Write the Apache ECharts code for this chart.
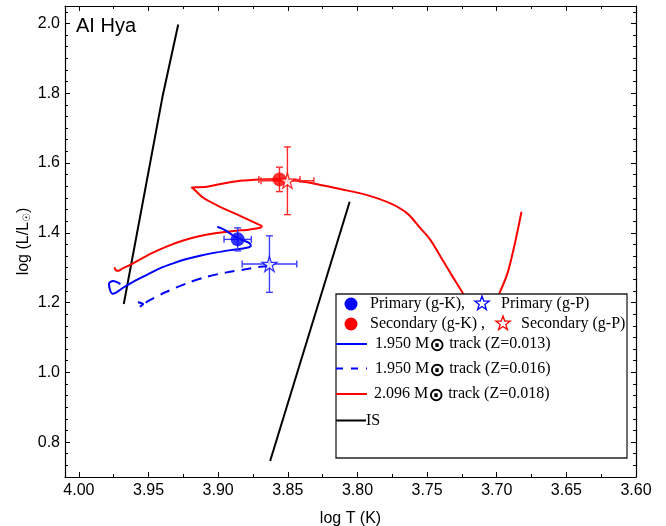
<!DOCTYPE html>
<html><head><meta charset="utf-8">
<script src="https://cdn.jsdelivr.net/npm/echarts@6/dist/echarts.min.js"></script>
<style>html,body{margin:0;padding:0;background:#fff}#c{width:666px;height:526px}</style>
</head><body><div id="c"></div>
<script>
// ---- data ----
const xMajorTicks = [4.00, 3.95, 3.90, 3.85, 3.80, 3.75, 3.70, 3.65, 3.60];
const yMajorTicks = [0.8, 1.0, 1.2, 1.4, 1.6, 1.8, 2.0];
const xRange = [3.60, 4.01];
const yRange = [0.70, 2.05];

const redTrack = [
 [3.9745,1.3009],[3.9734,1.2923],[3.9714,1.2911],[3.9693,1.2968],[3.9635,1.3074],[3.9563,1.3232],
 [3.9491,1.3390],[3.9371,1.3605],[3.9251,1.3777],[3.9131,1.3905],[3.9011,1.3991],[3.8891,1.4049],
 [3.8771,1.4097],[3.8699,1.4143],[3.8687,1.4192],[3.8711,1.4241],[3.8843,1.4487],[3.8987,1.4745],
 [3.9107,1.5003],[3.9179,1.5272],[3.9191,1.5301],[3.9083,1.5318],[3.8963,1.5415],[3.8843,1.5490],
 [3.8699,1.5530],[3.8579,1.5539],[3.8483,1.5510],[3.8315,1.5415],[3.8123,1.5252],[3.7931,1.5080],
 [3.7763,1.4842],[3.7643,1.4556],[3.7547,1.4126],[3.7475,1.3791],[3.7403,1.3312],[3.7331,1.2837],
 [3.7235,1.2215],[3.7173,1.1785],[3.7108,1.1585],[3.7043,1.1728],[3.6983,1.2244],[3.6923,1.2837],
 [3.6875,1.3599],[3.6822,1.4602]
];
const blueTrackZ013 = [
 [3.9702,1.2530],[3.9755,1.2616],[3.9784,1.2550],[3.9779,1.2387],[3.9760,1.2252],[3.9731,1.2292],
 [3.9683,1.2424],[3.9611,1.2596],[3.9515,1.2788],[3.9419,1.2980],[3.9323,1.3123],[3.9227,1.3246],
 [3.9131,1.3341],[3.9011,1.3438],[3.8891,1.3513],[3.8795,1.3570],[3.8766,1.3628],[3.8776,1.3705],
 [3.8819,1.3782],[3.8891,1.3914],[3.8951,1.4077],[3.9006,1.4172]
];
const blueTrackZ016 = [
 [3.9577,1.2006],[3.9539,1.1957],[3.9563,1.1880],[3.9491,1.2072],[3.9371,1.2309],[3.9227,1.2550],
 [3.9083,1.2739],[3.8939,1.2865],[3.8795,1.2960],[3.8699,1.3026],[3.8591,1.3046]
];
const isLeft = [[3.9678,1.1957],[3.9400,1.7897],[3.9287,1.9971]];
const isRight = [[3.8627,0.7458],[3.8056,1.4888]];

// [logT, logL, errT, errL]
const primaryGK = [[3.8860, 1.3811, 0.0098, 0.033]];
const primaryGP = [[3.8632, 1.3103, 0.0196, 0.081]];
const secondaryGK = [[3.8560, 1.5530, 0.0148, 0.035]];
const secondaryGP = [[3.8503, 1.5490, 0.0190, 0.097]];

const starLabel = 'AI Hya';
const legendLabels = ['Primary (g-K),', 'Primary (g-P)', 'Secondary (g-K) ,', 'Secondary (g-P)',
  '1.950 M{sun|⊙} track (Z=0.013)', '1.950 M{sun|⊙} track (Z=0.016)', '2.096 M{sun|⊙} track (Z=0.018)', 'IS'];

// ---- helpers (ticks only) ----
const xMinorTicks = xMajorTicks.slice(0, -1).map((v, i) => +((v + xMajorTicks[i + 1]) / 2).toFixed(4));
const yMinorTicks = [];
for (let k = 21; k <= 61; k++) { if (k % 6 !== 0) yMinorTicks.push(k / 30); }

const STAR = 'path://M50,2 L61.2,36.4 L97.6,36.4 L68.2,57.6 L79.4,92 L50,70.8 L20.6,92 L31.8,57.6 L2.4,36.4 L38.8,36.4 Z';
const SANS = 'Liberation Sans, Arial, sans-serif';
const SERIF = 'Liberation Serif, Times New Roman, serif';
const BLUE = '#0000ff', RED = '#ff0000';

function xAx(pos, ticks, len, showLine, showLabel, extra) {
  return Object.assign({
    type: 'value', position: pos, min: xRange[0], max: xRange[1], inverse: true,
    axisLine: { show: showLine, onZero: false, lineStyle: { color: '#000', width: 1.2 } },
    axisTick: { show: true, inside: true, length: len, customValues: ticks, lineStyle: { color: '#000', width: 1 } },
    axisLabel: showLabel ? { show: true, customValues: xMajorTicks, formatter: v => (+v).toFixed(2), fontSize: 16, fontFamily: SANS, color: '#000', margin: 6 } : { show: false },
    splitLine: { show: false }
  }, extra || {});
}
function yAx(pos, ticks, len, showLine, showLabel, extra) {
  return Object.assign({
    type: 'value', position: pos, min: yRange[0], max: yRange[1],
    axisLine: { show: showLine, onZero: false, lineStyle: { color: '#000', width: 1.2 } },
    axisTick: { show: true, inside: true, length: len, customValues: ticks, lineStyle: { color: '#000', width: 1 } },
    axisLabel: showLabel ? { show: true, customValues: yMajorTicks, formatter: v => (+v).toFixed(1), fontSize: 16, fontFamily: SANS, color: '#000', margin: 5 } : { show: false },
    splitLine: { show: false }
  }, extra || {});
}

function errSeries(data, color) {
  return {
    type: 'custom', data: data, z: 5, encode: { x: 0, y: 1 },
    renderItem: function (params, api) {
      const x = api.value(0), y = api.value(1), ex = api.value(2), ey = api.value(3);
      const l = api.coord([x - ex, y]), r = api.coord([x + ex, y]);
      const t = api.coord([x, y + ey]), b = api.coord([x, y - ey]);
      const cap = 3.5;
      const st = { stroke: color, lineWidth: 1.4 };
      const ln = (x1, y1, x2, y2) => ({ type: 'line', shape: { x1, y1, x2, y2 }, style: st });
      return { type: 'group', children: [
        ln(l[0], l[1], r[0], r[1]), ln(l[0], l[1] - cap, l[0], l[1] + cap), ln(r[0], r[1] - cap, r[0], r[1] + cap),
        ln(t[0], t[1], b[0], b[1]), ln(t[0] - cap, t[1], t[0] + cap, t[1]), ln(b[0] - cap, b[1], b[0] + cap, b[1])
      ] };
    }
  };
}
function lineSeries(data, color, dash, smooth) {
  return { type: 'line', data: data, showSymbol: false, symbol: 'none', z: 3, smooth: smooth || false,
    lineStyle: { color: color, width: 2, type: dash || 'solid' }, animation: false };
}

const chart = echarts.init(document.getElementById('c'), null, { renderer: 'canvas' });

const lgX = 336, lgY = 294, lgW = 291, lgH = 164;
const txt = (x, y, text, extra) => ({ type: 'text', x: x, y: y, z: 101,
  style: Object.assign({ text: text, fontFamily: SERIF, fontSize: 16, fill: '#000', verticalAlign: 'middle',
    rich: { sun: { fontFamily: 'DejaVu Sans', fontSize: 19, fontWeight: 'bold', verticalAlign: 'bottom', padding: [5, 0, 0, 0] } } }, extra || {}) });
const seg = (x1, y1, x2, y2, color, dash) => ({ type: 'line', z: 101, shape: { x1, y1, x2, y2 },
  style: { stroke: color, lineWidth: 2, lineDash: dash || null } });
const dot = (cx, cy, color) => ({ type: 'circle', z: 101, shape: { cx, cy, r: 6.5 }, style: { fill: color } });
function starPts(cx, cy, R) {
  const pts = [];
  for (let i = 0; i < 10; i++) {
    const r = i % 2 === 0 ? R : R * 0.4;
    const a = -Math.PI / 2 + i * Math.PI / 5;
    pts.push([cx + r * Math.cos(a), cy + r * Math.sin(a)]);
  }
  return pts;
}
const star = (cx, cy, color) => ({ type: 'polygon', z: 101, shape: { points: starPts(cx, cy, 7.5) },
  style: { fill: '#fff', stroke: color, lineWidth: 1.3 } });

chart.setOption({
  animation: false,
  backgroundColor: '#fff',
  grid: { left: 65, right: 30, top: 6, bottom: 49, containLabel: false, outerBoundsMode: 'none' },
  xAxis: [
    xAx('bottom', xMajorTicks, 5, true, true, { name: 'log T (K)', nameLocation: 'middle', nameGap: 34,
      nameTextStyle: { fontSize: 16, fontFamily: SANS, color: '#000' } }),
    xAx('bottom', xMinorTicks, 3, false, false),
    xAx('top', xMajorTicks, 5, true, false),
    xAx('top', xMinorTicks, 3, false, false)
  ],
  yAxis: [
    yAx('left', yMajorTicks, 5, true, true, { name: 'log (L/L{s|☉})', nameLocation: 'middle', nameGap: 33, nameMoveOverlap: false,
      nameTextStyle: { fontSize: 16, fontFamily: SANS, color: '#000',
        rich: { s: { fontSize: 10, fontFamily: 'DejaVu Sans', verticalAlign: 'bottom', padding: [6, 0, 0, 0] } } } }),
    yAx('left', yMinorTicks, 3, false, false),
    yAx('right', yMajorTicks, 5, true, false),
    yAx('right', yMinorTicks, 3, false, false)
  ],
  series: [
    lineSeries(isLeft, '#000'),
    lineSeries(isRight, '#000'),
    lineSeries(redTrack, RED, null, 0.3),
    lineSeries(blueTrackZ013, BLUE, null, 0.3),
    lineSeries(blueTrackZ016, BLUE, [10, 7], 0.3),
    errSeries(primaryGK.concat(primaryGP), '#3d3dff'),
    errSeries(secondaryGK.concat(secondaryGP), '#ff2a2a'),
    { type: 'scatter', data: primaryGK, symbol: 'circle', symbolSize: 14, z: 6, itemStyle: { color: BLUE } },
    { type: 'scatter', data: secondaryGK, symbol: 'circle', symbolSize: 14, z: 6, itemStyle: { color: RED } },
    { type: 'scatter', data: primaryGP, symbol: STAR, symbolSize: 15, z: 7, itemStyle: { color: '#fff', borderColor: BLUE, borderWidth: 1.3 } },
    { type: 'scatter', data: secondaryGP, symbol: STAR, symbolSize: 15, z: 7, itemStyle: { color: '#fff', borderColor: RED, borderWidth: 1.3 } }
  ],
  graphic: [
    { type: 'text', x: 76, y: 26, z: 100, style: { text: starLabel, fontFamily: SANS, fontSize: 20, fill: '#000', verticalAlign: 'middle' } },
    { type: 'rect', z: 100, shape: { x: lgX, y: lgY, width: lgW, height: lgH }, style: { fill: '#fff', stroke: '#222', lineWidth: 1.3 } },
    dot(351, 304, BLUE), txt(370, 304, legendLabels[0]), star(482, 303.5, BLUE), txt(501, 304, legendLabels[1]),
    dot(351, 324, RED), txt(370, 324, legendLabels[2]), star(503, 323.5, RED), txt(521, 324, legendLabels[3]),
    seg(lgX, 344, 367, 344, BLUE), txt(375, 344, legendLabels[4]),
    seg(lgX, 368.5, 367, 368.5, BLUE, [7, 8]), txt(375, 368.5, legendLabels[5]),
    seg(lgX, 394, 367, 394, RED), txt(374, 394, legendLabels[6]),
    seg(lgX, 420.5, 366, 420.5, '#000'), txt(366, 420.5, legendLabels[7])
  ]
});
</script>
</body></html>
